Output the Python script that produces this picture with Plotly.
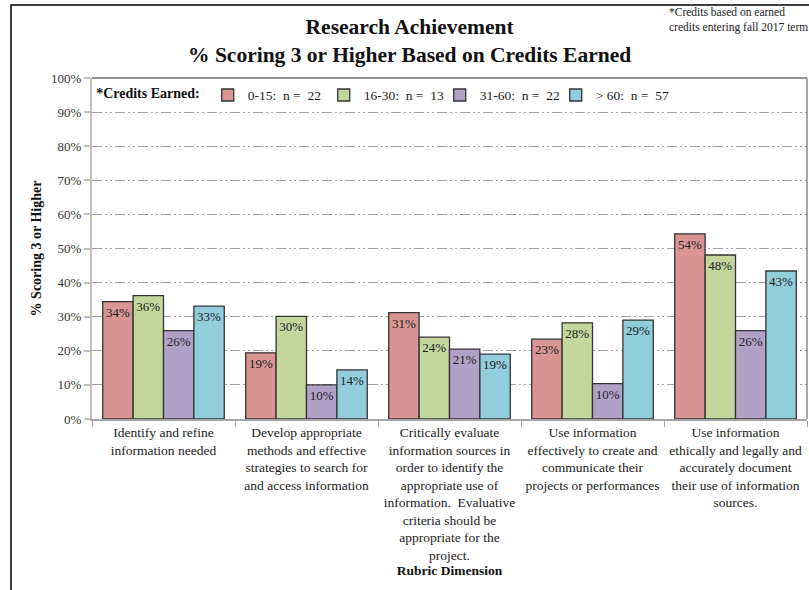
import plotly.graph_objects as go

categories = [
    "Identify and refine<br>information needed",
    "Develop appropriate<br>methods and effective<br>strategies to search for<br>and access information",
    "Critically evaluate<br>information sources in<br>order to identify the<br>appropriate use of<br>information.  Evaluative<br>criteria should be<br>appropriate for the<br>project.",
    "Use information<br>effectively to create and<br>communicate their<br>projects or performances",
    "Use information<br>ethically and legally and<br>accurately document<br>their use of information<br>sources.",
]
series_names = ["0-15:\u00a0 n =\u00a0 22", "16-30:\u00a0 n =\u00a0 13", "31-60:\u00a0 n =\u00a0 22", "> 60:\u00a0 n =\u00a0 57"]
credits_0_15 = [0.344, 0.194, 0.312, 0.234, 0.543]
credits_16_30 = [0.362, 0.301, 0.240, 0.282, 0.481]
credits_31_60 = [0.259, 0.100, 0.205, 0.104, 0.259]
credits_over_60 = [0.331, 0.144, 0.190, 0.290, 0.434]
colors = ["#D99594", "#C3D69B", "#B2A1C7", "#92CDDC"]
y_ticks = [i / 10 for i in range(11)]
y_tick_labels = [f"{i*10}%" for i in range(11)]
title_text = "Research Achievement<br>% Scoring 3 or Higher Based on Credits Earned"
note_text = "*Credits based on earned<br>credits entering fall 2017 term"

FONT = "Liberation Serif, Times New Roman, serif"
W, H = 809, 590
L, R, T, B = 92, 2, 78, 171
PW, PH = W - L - R, H - T - B


def px_x(x):
    return (x - L) / PW


def px_y(y):
    return (H - B - y) / PH


fig = go.Figure()
for name, vals, col in zip(series_names, [credits_0_15, credits_16_30, credits_31_60, credits_over_60], colors):
    fig.add_trace(go.Bar(
        x=categories, y=vals, name=name,
        marker=dict(color=col, line=dict(color="#333333", width=1.3)),
        texttemplate="%{y:.0%}", textposition="inside", insidetextanchor="end",
        textfont=dict(family=FONT, size=13, color="#222222"),
        textangle=0,
    ))

fig.update_layout(
    width=W, height=H,
    margin=dict(l=L, r=R, t=T, b=B),
    paper_bgcolor="white", plot_bgcolor="white",
    barmode="group", bargap=0.15, bargroupgap=0,
    font=dict(family=FONT, size=13, color="#222222"),
    legend=dict(
        orientation="h", x=0.003, y=0.995, xanchor="left", yanchor="top",
        bgcolor="rgba(0,0,0,0)",
        title=dict(text="<b>*Credits Earned:</b>", side="left", font=dict(family=FONT, size=14, color="#111111")),
        font=dict(family=FONT, size=13.5, color="#222222"),
        itemwidth=30, traceorder="normal", entrywidth=71, entrywidthmode="pixels",
    ),
    uniformtext=dict(minsize=11, mode="show"),
    showlegend=True,
)

fig.update_yaxes(
    range=[0, 1], tickvals=y_ticks, ticktext=y_tick_labels,
    showgrid=True, gridcolor="#A0A0A0", gridwidth=1, griddash="10px,3px,2px,3px,2px,3px",
    showline=True, linecolor="#BFBFBF", linewidth=2, mirror=False,
    ticks="outside", ticklen=6, tickcolor="#BFBFBF", tickwidth=1.5,
    tickfont=dict(family=FONT, size=13, color="#333333"),
    title=dict(text="<b>% Scoring 3 or Higher</b>", font=dict(family=FONT, size=14, color="#111111"), standoff=6),
    zeroline=False,
)
fig.update_xaxes(
    showline=True, linecolor="#A6A6A6", linewidth=1.5,
    ticks="outside", tickson="boundaries", ticklen=6, tickcolor="#A6A6A6",
    tickfont=dict(family=FONT, size=13.5, color="#222222"),
    tickangle=0,
    title=dict(text="<b>Rubric Dimension</b>", font=dict(family=FONT, size=13.5, color="#111111"), standoff=4),
)

# plot frame: top and right edges
fig.add_shape(type="line", xref="paper", yref="paper", x0=0, x1=1, y0=1, y1=1,
              line=dict(color="#6E6E6E", width=1.5))
fig.add_shape(type="line", xref="paper", yref="paper", x0=1, x1=1, y0=0, y1=1,
              line=dict(color="#6E6E6E", width=1.2))

# outer chart border
fig.add_shape(type="rect", xref="paper", yref="paper",
              x0=px_x(11), x1=px_x(820), y0=px_y(600), y1=px_y(5),
              line=dict(color="#000000", width=1.5), fillcolor="rgba(0,0,0,0)", layer="below")

# title
fig.add_annotation(text=f"<b>{title_text}</b>", xref="paper", yref="paper",
                   x=px_x(409), y=px_y(41), xanchor="center", yanchor="middle", align="center",
                   showarrow=False, font=dict(family=FONT, size=21.5, color="#111111"))

# note at top right
fig.add_annotation(text=note_text, xref="paper", yref="paper",
                   x=px_x(667), y=px_y(4), xanchor="left", yanchor="top", align="left",
                   showarrow=False, font=dict(family=FONT, size=11.5, color="#222222"))

fig.write_html("out.html", config={"displayModeBar": False},
               post_script="document.body.style.margin='0';document.body.style.padding='0';")
